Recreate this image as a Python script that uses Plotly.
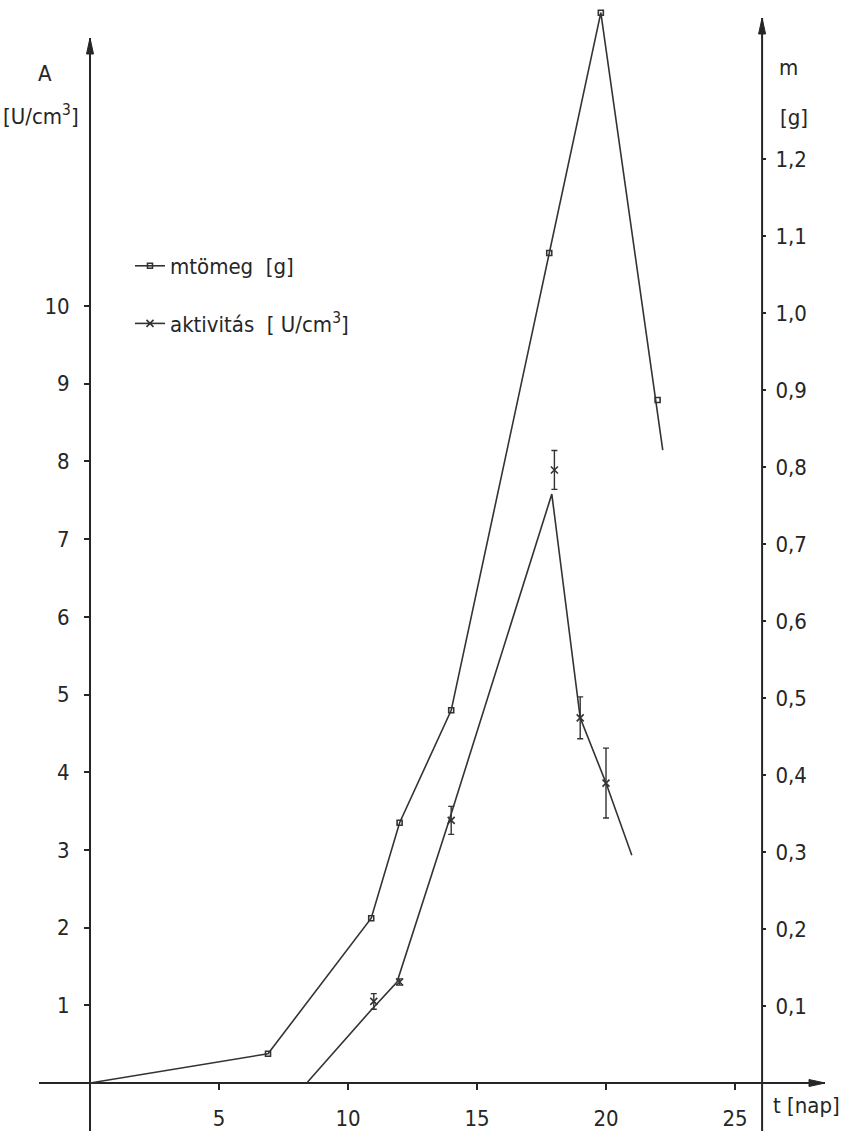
import plotly.graph_objects as go

# ---------------- data ----------------
# activity A [U/cm3] (left axis): drawn trend line vertices
act_line_t = [8.4, 10.9, 11.9, 13.9, 17.9, 19.0, 20.0, 21.0]
act_line_A = [0.0, 0.94, 1.30, 3.36, 7.58, 4.70, 3.86, 2.93]
# activity measured points with error
act_t = [11.0, 12.0, 14.0, 18.0, 19.0, 20.0]
act_A = [1.05, 1.30, 3.38, 7.89, 4.70, 3.86]
act_err = [0.10, 0.04, 0.18, 0.25, 0.27, 0.45]

# mass m [g] (right axis)
mass_line_t = [0.0, 6.9, 10.9, 12.0, 14.0, 17.8, 19.8, 22.2]
mass_line_m = [0.0, 0.038, 0.214, 0.338, 0.484, 1.078, 1.390, 0.822]
mass_t = [6.9, 10.9, 12.0, 14.0, 17.8, 19.8, 22.0]
mass_m = [0.038, 0.214, 0.338, 0.484, 1.078, 1.390, 0.887]

x_ticks = [5, 10, 15, 20, 25]
left_ticks = [1, 2, 3, 4, 5, 6, 7, 8, 9, 10]
right_ticks = [0.1, 0.2, 0.3, 0.4, 0.5, 0.6, 0.7, 0.8, 0.9, 1.0, 1.1, 1.2]
right_ticktext = ["0,1", "0,2", "0,3", "0,4", "0,5", "0,6", "0,7", "0,8", "0,9", "1,0", "1,1", "1,2"]

# ---------------- layout geometry ----------------
W, H = 841, 1131
TOP = 8
X0PX, XSCALE = 90, 25.8          # px of t=0, px per day
Y0PX, YSCALE = 1083, 77.7        # px of A=0, px per U/cm3
MSCALE = 770                     # px per g on right axis
RIGHT_T = 26.05                  # t where right axis stands

xr = [-X0PX / XSCALE, (W - X0PX) / XSCALE]
yr = [(Y0PX - H) / YSCALE, (Y0PX - TOP) / YSCALE]
mr = [(Y0PX - H) / MSCALE, (Y0PX - TOP) / MSCALE]
ph = H - TOP
x_axis_pos = (H - Y0PX) / ph
left_pos = X0PX / W
right_pos = (X0PX + RIGHT_T * XSCALE) / W

FONT = "DejaVu Sans Condensed, DejaVu Sans, sans-serif"
INK = "#262626"
LINE = "#333333"

fig = go.Figure()

# activity
fig.add_trace(go.Scatter(x=act_line_t, y=act_line_A, mode="lines",
                         line=dict(color=LINE, width=1.6), showlegend=False, yaxis="y"))
fig.add_trace(go.Scatter(x=act_t, y=act_A, mode="markers",
                         marker=dict(symbol="x-thin", size=7, color=LINE,
                                     line=dict(color=LINE, width=1.6)),
                         error_y=dict(type="data", array=act_err, visible=True,
                                      color=LINE, thickness=1.4, width=3),
                         showlegend=False, yaxis="y"))
# mass
fig.add_trace(go.Scatter(x=mass_line_t, y=mass_line_m, mode="lines",
                         line=dict(color=LINE, width=1.6), showlegend=False, yaxis="y2"))
fig.add_trace(go.Scatter(x=mass_t, y=mass_m, mode="markers",
                         marker=dict(symbol="square-open", size=5, color=LINE,
                                     line=dict(color=LINE, width=1.6)),
                         showlegend=False, yaxis="y2"))

# legend entries
fig.add_trace(go.Scatter(x=[None], y=[None], mode="lines+markers", name="mtömeg  [g]",
                         line=dict(color=LINE, width=1.6),
                         marker=dict(symbol="square-open", size=5, color=LINE,
                                     line=dict(color=LINE, width=1.6)),
                         legendgroup="m", yaxis="y2"))
fig.add_trace(go.Scatter(x=[None], y=[None], mode="lines+markers",
                         name="aktivitás  [ U/cm<sup>3</sup>]",
                         line=dict(color=LINE, width=1.6),
                         marker=dict(symbol="x-thin", size=7, color=LINE,
                                     line=dict(color=LINE, width=1.6)),
                         legendgroup="a", yaxis="y"))

tickfont = dict(family=FONT, size=22, color=INK)
common = dict(showgrid=False, zeroline=False, showline=False, tickcolor=INK, tickwidth=1.6)

fig.update_layout(
    width=W, height=H,
    margin=dict(l=0, r=0, t=TOP, b=0, pad=0, autoexpand=False),
    paper_bgcolor="white", plot_bgcolor="white",
    font=dict(family=FONT, size=22, color=INK),
    xaxis=dict(range=xr, tickvals=x_ticks, ticks="outside", ticklen=6,
               anchor="free", position=x_axis_pos, tickfont=tickfont,
               ticklabelstandoff=10, **common),
    xaxis2=dict(range=xr, overlaying="x", tickvals=x_ticks, ticks="inside", ticklen=6,
                anchor="free", position=x_axis_pos, showticklabels=False, **common),
    yaxis=dict(range=yr, tickvals=left_ticks, ticks="outside", ticklen=6,
               anchor="free", position=left_pos, tickfont=tickfont,
               ticklabelstandoff=10, **common),
    yaxis3=dict(range=yr, overlaying="y", tickvals=left_ticks, ticks="inside", ticklen=6,
                anchor="free", position=left_pos, showticklabels=False, **common),
    yaxis2=dict(range=mr, overlaying="y", side="right", tickvals=right_ticks,
                ticktext=right_ticktext, ticks="outside", ticklen=3,
                anchor="free", position=right_pos, tickfont=tickfont,
                ticklabelstandoff=5, **common),
    yaxis4=dict(range=mr, overlaying="y", side="right", tickvals=right_ticks,
                ticks="inside", ticklen=9, anchor="free", position=right_pos,
                showticklabels=False, **common),
    legend=dict(x=130 / W, y=(H - 245) / ph, xanchor="left", yanchor="top",
                bgcolor="rgba(0,0,0,0)", font=dict(family=FONT, size=22, color=INK),
                tracegroupgap=26, traceorder="grouped", itemwidth=30),
    showlegend=True,
)

# axis lines (shapes) with arrowheads (pixel-sized path shapes)
axis_line = dict(type="line", xref="x", yref="y", line=dict(color=INK, width=2), layer="below")
top_left = (Y0PX - 38) / YSCALE
top_right = (Y0PX - 18) / YSCALE
x_start = (39 - X0PX) / XSCALE
x_end = (825 - X0PX) / XSCALE
fig.add_shape(x0=0, x1=0, y0=yr[0], y1=top_left, **axis_line)
fig.add_shape(x0=RIGHT_T, x1=RIGHT_T, y0=yr[0], y1=top_right, **axis_line)
fig.add_shape(x0=x_start, x1=x_end, y0=0, y1=0, **axis_line)

head = dict(type="path", xref="x", yref="y", xsizemode="pixel", ysizemode="pixel",
            fillcolor=INK, line=dict(color=INK, width=1))
fig.add_shape(xanchor=0, yanchor=top_left, path="M -3.5 -16 L 0 0 L 3.5 -16 Z", **head)
fig.add_shape(xanchor=RIGHT_T, yanchor=top_right, path="M -3.5 -16 L 0 0 L 3.5 -16 Z", **head)
fig.add_shape(xanchor=x_end, yanchor=0, path="M -16 -3.5 L 0 0 L -16 3.5 Z", **head)

# axis titles
def paper_y(px):
    return (H - px) / ph

titles = [
    ("A", 45, 73),
    ("[U/cm<sup>3</sup>]", 41, 115),
    ("m", 788, 67),
    ("[g]", 794, 118),
    ("t [nap]", 806, 1105),
]
for txt, px, py in titles:
    fig.add_annotation(text=txt, x=px / W, y=paper_y(py), xref="paper", yref="paper",
                       showarrow=False, xanchor="center", yanchor="middle",
                       font=dict(family=FONT, size=22, color=INK))

fig.write_html("out.html", config={"displayModeBar": False},
               post_script="document.body.style.margin='0';")
